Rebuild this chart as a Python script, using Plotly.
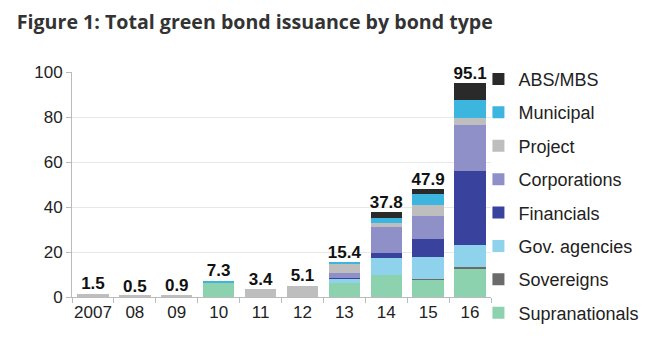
import plotly.graph_objects as go

years = ["2007", "08", "09", "10", "11", "12", "13", "14", "15", "16"]
totals = [1.5, 0.5, 0.9, 7.3, 3.4, 5.1, 15.4, 37.8, 47.9, 95.1]
total_labels = ["1.5", "0.5", "0.9", "7.3", "3.4", "5.1", "15.4", "37.8", "47.9", "95.1"]

supranationals = [0, 0, 0, 6.3, 0, 0, 6.1, 9.8, 7.8, 12.5]
sovereigns = [0, 0, 0, 0, 0, 0, 0, 0, 0.3, 0.8]
gov_agencies = [0, 0, 0, 0, 0, 0, 1.9, 7.7, 9.8, 10.0]
financials = [0, 0, 0, 0, 0, 0, 0.5, 2.2, 7.9, 32.6]
corporations = [0, 0, 0, 0, 0, 0, 2.1, 11.6, 10.3, 20.7]
project = [1.5, 0.5, 0.9, 0, 3.4, 5.1, 4.5, 1.4, 4.8, 3.0]
municipal = [0, 0, 0, 1.0, 0, 0, 0.3, 2.3, 4.9, 7.8]
abs_mbs = [0, 0, 0, 0, 0, 0, 0, 2.8, 2.1, 7.7]

series = [
    ("Supranationals", supranationals, "#8DD2AE"),
    ("Sovereigns", sovereigns, "#6B6B6B"),
    ("Gov. agencies", gov_agencies, "#8FD2EC"),
    ("Financials", financials, "#39439E"),
    ("Corporations", corporations, "#9090C8"),
    ("Project", project, "#BEBEBE"),
    ("Municipal", municipal, "#3DB6DF"),
    ("ABS/MBS", abs_mbs, "#2A2A2A"),
]

fig = go.Figure()
n = len(series)
for i, (name, vals, color) in enumerate(series):
    fig.add_trace(go.Bar(
        x=years, y=vals, name=name, legendgroup=name,
        legendrank=(n - i) * 10,
        marker=dict(color=color, line=dict(width=0)),
        width=0.75,
    ))

fig.add_trace(go.Scatter(
    x=years, y=totals, text=total_labels, mode="text",
    textposition="top center",
    textfont=dict(family="Liberation Sans, Arial, sans-serif", size=17, color="#111111"),
    texttemplate="<b>%{text}</b>",
    showlegend=False, hoverinfo="skip", cliponaxis=False,
))

fig.update_layout(
    width=647, height=351,
    barmode="stack",
    paper_bgcolor="white", plot_bgcolor="white",
    margin=dict(l=72, r=156, t=72, b=54, autoexpand=False),
    title=dict(
        text="<b>Figure 1: Total green bond issuance by bond type</b>",
        xref="container", yref="container", x=0.026, y=0.937,
        xanchor="left", yanchor="middle",
        font=dict(family="Open Sans, sans-serif", size=19.6, color="#333333"),
    ),
    font=dict(family="Liberation Sans, Arial, sans-serif", size=17, color="#222222"),
    legend=dict(
        x=0.97, xanchor="left", y=1.05, yanchor="top",
        traceorder="grouped", tracegroupgap=7,
        font=dict(size=18, color="#222222"),
        bgcolor="rgba(0,0,0,0)",
        itemwidth=30, maxheight=320,
    ),
    showlegend=True,
)
fig.update_xaxes(
    type="category", tickson="boundaries", ticks="outside", ticklen=5,
    tickcolor="#BBBBBB", showline=True, linecolor="#BBBBBB", showgrid=False,
    tickangle=0, tickfont=dict(size=17),
)
fig.update_yaxes(
    range=[0, 100], dtick=20, ticks="outside", ticklen=5, tickcolor="#BBBBBB",
    showline=True, linecolor="#BBBBBB", gridcolor="#E8E8E8", zeroline=False,
    tickfont=dict(size=17),
)

fig.write_html("out.html")
